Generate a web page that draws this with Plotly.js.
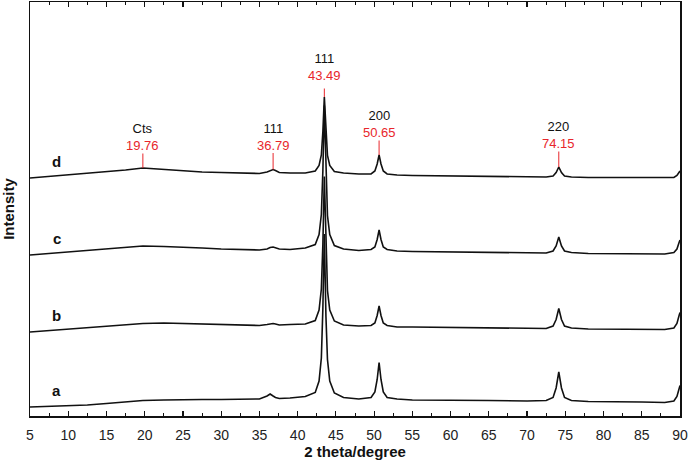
<!DOCTYPE html>
<html>
<head>
<meta charset="utf-8">
<script src="https://cdn.plot.ly/plotly-3.0.1.min.js"></script>
<style>
  html, body { margin: 0; padding: 0; background: #fff; }
  #chart { width: 692px; height: 461px; }
</style>
</head>
<body>
<div id="chart"></div>
<script>
// 2 theta (degree) sample points shared by the four patterns
const twoTheta = [
  5, 7.5, 10, 12.5, 15, 17.5, 19.76, 22.5, 25, 27.5,
  30, 32.5, 35, 36, 36.4, 36.79, 37.1, 37.6, 39, 41,
  42.3, 42.8, 43.1, 43.3, 43.49, 43.7, 43.9, 44.2, 44.8, 46,
  48, 49.6, 50.1, 50.4, 50.65, 50.9, 51.2, 51.7, 53, 55,
  60, 65, 70, 72.5, 73.4, 73.8, 74.15, 74.5, 74.9, 75.8,
  78, 80, 85, 88, 89.2, 89.6, 89.9, 90,
];

// stacked intensities (offset already included)
const intensityA = [
  9, 9.5, 10, 11, 12.5, 14, 15.5, 16, 16.5, 16.5,
  16.5, 17, 17, 20, 22, 20, 18.5, 17.5, 18, 19.5,
  23.5, 35, 58, 108, 182, 99.5, 56.5, 35, 23, 18.5,
  17, 18.5, 24, 36.5, 53.5, 36.5, 24, 18.5, 17, 16,
  16, 15.5, 15, 15.5, 18.5, 28, 44, 28, 18.5, 15.5,
  14.5, 14.5, 14, 13.5, 15, 19.5, 28, 30.5,
];
const intensityB = [
  84, 85.5, 87, 88.5, 90, 91.5, 92.5, 93, 92.5, 92,
  91.5, 91, 90.5, 91.5, 92, 92.5, 92, 91, 91.5, 92,
  95.5, 106, 127, 172, 239.5, 164.5, 125.5, 106, 95, 91,
  90, 90.5, 93, 100.5, 110, 100.5, 93, 90.5, 89, 89,
  88.5, 88, 88, 87.5, 90, 96.5, 107.5, 96.5, 90, 88,
  87, 87, 87, 86.5, 88, 92.5, 101, 103.5,
];
const intensityC = [
  161, 162.5, 164, 166, 167.5, 169, 170, 169.5, 169, 168,
  167, 166.5, 166, 167, 168.5, 169, 168, 167, 166.5, 168,
  171.5, 181.5, 201.5, 245.5, 310.5, 238, 200.5, 181.5, 170.5, 167,
  165.5, 166.5, 169, 176.5, 186, 176.5, 169, 166.5, 165, 164.5,
  164, 163.5, 163, 163, 165, 170, 179, 170, 165, 163.5,
  162.5, 162.5, 162, 162, 163.5, 167, 174, 176,
];
const intensityD = [
  238, 239.5, 241, 242.5, 244, 246, 248, 246.5, 245, 244,
  243.5, 243, 242.5, 244, 245.5, 246.5, 245.5, 243.5, 243, 243,
  245, 250.5, 261, 284.5, 319, 280.5, 260.5, 250.5, 244.5, 243,
  242, 242, 245, 252, 261, 252, 245, 242, 241, 240.5,
  240, 239.5, 239, 239, 240, 243.5, 249, 243.5, 240, 239,
  238.5, 238.5, 238, 238, 238.5, 240.5, 244, 245,
];

const sampleNames = ['a', 'b', 'c', 'd'];

// peaks marked on pattern d
const peakPositions = [19.76, 36.79, 43.49, 50.65, 74.15];
const peakNames = ['Cts', '111', '111', '200', '220'];

const RED = '#e8262b';
const INK = '#111111';
const FONT = 'Liberation Sans, Arial, sans-serif';

const series = [intensityA, intensityB, intensityC, intensityD];

const traces = series.map((ys, i) => ({
  x: twoTheta,
  y: ys,
  name: sampleNames[i],
  type: 'scatter',
  mode: 'lines',
  line: {color: INK, width: 1.6},
  hoverinfo: 'skip',
}));

const annotations = [];

// sample letters just above each pattern's left end
series.forEach((ys, i) => {
  annotations.push({
    x: 8.5,
    y: ys[0] + 17,
    text: '<b>' + sampleNames[i] + '</b>',
    showarrow: false,
    font: {family: FONT, size: 15, color: INK},
  });
});

// tick length and text lift above each peak top (px)
const tickLen = [16, 18, 10, 16, 17];
const labelLift = [31, 33, 30, 31, 32];

peakPositions.forEach((p, i) => {
  const y = intensityD[twoTheta.indexOf(p)];
  annotations.push({
    x: p, y: y,
    text: '', showarrow: true, arrowhead: 0,
    arrowcolor: RED, arrowwidth: 1,
    ax: 0, ay: -tickLen[i], standoff: 0,
  });
  annotations.push({
    x: p, y: y, yshift: labelLift[i],
    text: peakNames[i] + '<br><span style="color:' + RED + '">' + p.toFixed(2) + '</span>',
    showarrow: false,
    font: {family: FONT, size: 13, color: INK},
  });
});

const layout = {
  width: 692,
  height: 461,
  margin: {l: 30, r: 12, t: 2, b: 45},
  paper_bgcolor: '#fff',
  plot_bgcolor: '#fff',
  showlegend: false,
  font: {family: FONT, color: INK},
  xaxis: {
    range: [5, 90],
    tick0: 5,
    dtick: 5,
    ticks: 'inside',
    ticklen: 5,
    tickwidth: 1.2,
    tickcolor: INK,
    showline: true,
    linecolor: INK,
    linewidth: 1.5,
    mirror: 'ticks',
    showgrid: false,
    zeroline: false,
    ticklabelstandoff: 6,
    tickfont: {family: FONT, size: 14, color: '#222'},
    minor: {dtick: 2.5, ticks: 'inside', ticklen: 3, tickwidth: 1, tickcolor: INK},
    title: {text: '<b>2 theta/degree</b>', font: {family: FONT, size: 15, color: INK}, standoff: 3},
  },
  yaxis: {
    range: [0, 414],
    showticklabels: false,
    ticks: '',
    showline: true,
    linecolor: INK,
    linewidth: 1.5,
    mirror: true,
    showgrid: false,
    zeroline: false,
    title: {text: '<b>Intensity</b>', font: {family: FONT, size: 15, color: INK}, standoff: 10},
  },
  annotations: annotations,
};

Plotly.newPlot('chart', traces, layout, {displayModeBar: false, staticPlot: true});
</script>
</body>
</html>
